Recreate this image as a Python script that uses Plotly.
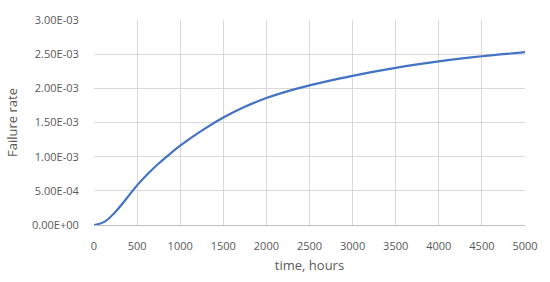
import plotly.graph_objects as go

hours = [0, 125, 250, 375, 500, 625, 750, 875, 1000, 1250, 1500, 1750,
         2000, 2250, 2500, 2750, 3000, 3250, 3500, 3750, 4000, 4250, 4500, 4750, 5000]
failure_rate = [0.0, 5.0e-5, 1.95e-4, 3.85e-4, 5.8e-4, 7.5e-4, 9.0e-4, 1.035e-3,
                1.16e-3, 1.38e-3, 1.572e-3, 1.73e-3, 1.858e-3, 1.96e-3,
                2.043e-3, 2.117e-3, 2.183e-3, 2.244e-3, 2.30e-3, 2.35e-3, 2.395e-3,
                2.435e-3, 2.47e-3, 2.50e-3, 2.53e-3]

x_ticks = [0, 500, 1000, 1500, 2000, 2500, 3000, 3500, 4000, 4500, 5000]
y_ticks = [0, 5e-4, 1e-3, 1.5e-3, 2e-3, 2.5e-3, 3e-3]
y_tick_labels = ["0.00E+00", "5.00E-04", "1.00E-03", "1.50E-03", "2.00E-03", "2.50E-03", "3.00E-03"]

fig = go.Figure()
fig.add_trace(go.Scatter(x=hours, y=failure_rate, mode="lines",
                         line=dict(color="#4472C4", width=2.2, shape="spline", smoothing=1.2),
                         showlegend=False))

font = dict(family="Open Sans, Noto Sans, sans-serif", size=11, color="#595959")
fig.update_layout(
    width=550, height=282,
    margin=dict(l=94, r=20, t=15, b=57),
    paper_bgcolor="white", plot_bgcolor="white",
    font=font,
    xaxis=dict(range=[0, 5000], tickvals=x_ticks, showgrid=True, gridcolor="#d9d9d9", gridwidth=1,
               zeroline=False, showline=True, linecolor="#bfbfbf", linewidth=1,
               ticks="outside", ticklen=11, tickcolor="rgba(0,0,0,0)",
               title=dict(text="time, hours", font=dict(size=13, color="#595959"), standoff=8),
               tickfont=dict(size=11, color="#595959")),
    yaxis=dict(range=[0, 3e-3], tickvals=y_ticks, ticktext=y_tick_labels, showgrid=True,
               gridcolor="#d9d9d9", gridwidth=1, zeroline=False, showline=False,
               ticks="outside", ticklen=12, tickcolor="rgba(0,0,0,0)",
               title=dict(text="Failure rate", font=dict(size=13, color="#595959"), standoff=11),
               tickfont=dict(size=11, color="#595959")),
)
fig.write_html("out.html", config={"displayModeBar": False},
               post_script="document.body.style.margin='0';")
